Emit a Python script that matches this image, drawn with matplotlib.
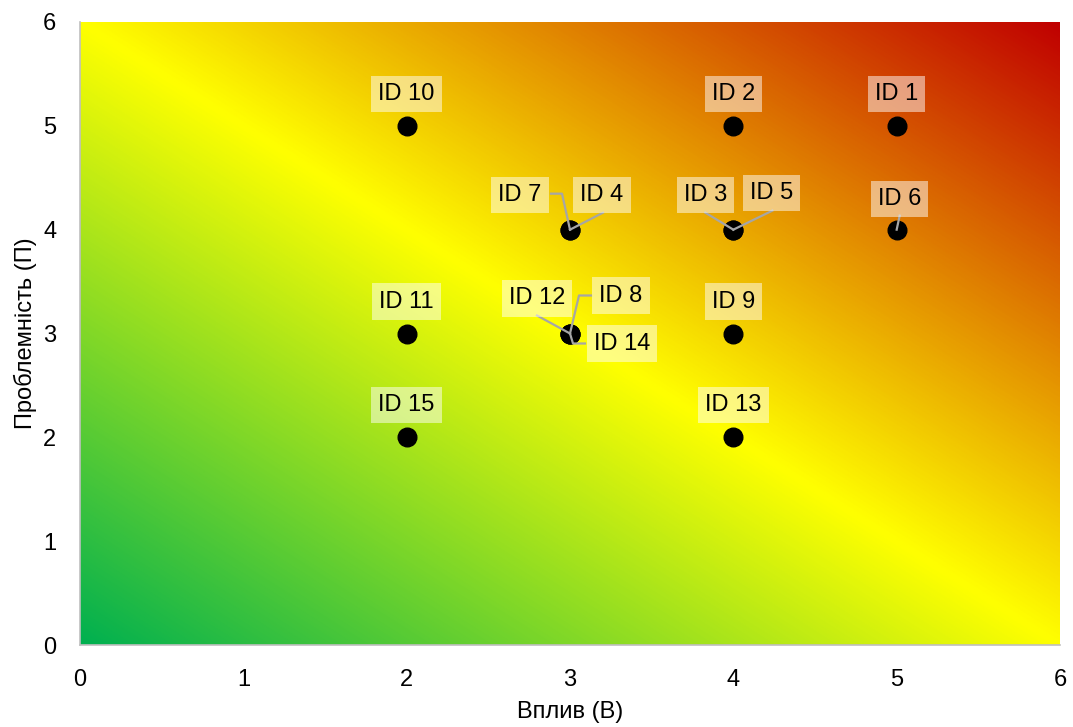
import numpy as np
import matplotlib.pyplot as plt
from matplotlib.colors import LinearSegmentedColormap

plt.rcParams['font.family'] = ['Liberation Sans', 'DejaVu Sans']

# risk register: impact (В) vs problem level (П)
ids = ['ID 1', 'ID 2', 'ID 3', 'ID 4', 'ID 5', 'ID 6', 'ID 7', 'ID 8',
       'ID 9', 'ID 10', 'ID 11', 'ID 12', 'ID 13', 'ID 14', 'ID 15']
impact = [5, 4, 4, 3, 4, 5, 3, 3, 4, 2, 2, 3, 4, 3, 2]
problem = [5, 5, 4, 4, 4, 4, 4, 3, 3, 5, 3, 3, 2, 3, 2]

x_ticks = [0, 1, 2, 3, 4, 5, 6]
y_ticks = [0, 1, 2, 3, 4, 5, 6]

# label offsets in pixels from the point (default: straight above)
label_offset = {
    'ID 7': (-50, 35), 'ID 4': (32, 35),
    'ID 3': (-28, 35), 'ID 5': (38, 37),
    'ID 6': (3, 31),
    'ID 12': (-33, 35), 'ID 8': (51, 38), 'ID 14': (52, -10),
}
# leader lines, pixel offsets from the point
leaders = {
    'ID 7': [(-19, 36), (-8, 36), (0, 0)],
    'ID 4': [(33, 17), (0, 0)],
    'ID 3': [(-28, 17), (0, 0)],
    'ID 5': [(39, 19), (0, 0)],
    'ID 6': [(3, 14), (0, 0)],
    'ID 12': [(-33, 18), (0, 0)],
    'ID 8': [(21, 38), (9, 38), (0, 0)],
    'ID 14': [(15, -10), (3, -10), (0, 0)],
}

fig = plt.figure(figsize=(10.73, 7.27), dpi=100)
ax = fig.add_axes([80 / 1073, 1 - 645 / 727, 980 / 1073, 623 / 727])

# diagonal green -> yellow -> red background
cmap = LinearSegmentedColormap.from_list('risk', ['#00B050', '#FFFF00', '#C00000'])
gx, gy = np.meshgrid(np.linspace(0, 6, 600), np.linspace(0, 6, 600))
ax.imshow((gx + gy) / 12, extent=[0, 6, 0, 6], origin='lower', cmap=cmap,
          aspect='auto', interpolation='bilinear', vmin=0, vmax=1, zorder=0)

ax.scatter(impact, problem, s=180, color='black', zorder=3)

# pixel -> data scale of the axes
sx = 6 / 980
sy = 6 / 623

for name, xv, yv in zip(ids, impact, problem):
    if name in leaders:
        pts = leaders[name]
        xs = [xv + p[0] * sx for p in pts]
        ys = [yv + p[1] * sy for p in pts]
        ax.plot(xs, ys, color='#A6A6A6', lw=1.6, zorder=4)
    dx, dy = label_offset.get(name, (0, 32))
    ax.annotate(name, xy=(xv, yv), xytext=(dx, dy), textcoords='offset pixels',
                ha='center', va='center', fontsize=17, color='black', zorder=5,
                bbox=dict(boxstyle='square,pad=0.3', fc='white', ec='none', alpha=0.5))

ax.set_xlim(0, 6)
ax.set_ylim(0, 6)
ax.set_xticks(x_ticks)
ax.set_yticks(y_ticks)
ax.tick_params(length=0, labelsize=17)
ax.tick_params(axis='y', pad=17)
ax.tick_params(axis='x', pad=17)
for side in ['top', 'right']:
    ax.spines[side].set_visible(False)
for side in ['left', 'bottom']:
    ax.spines[side].set_color('#BFBFBF')
    ax.spines[side].set_linewidth(1.2)

ax.set_xlabel('Вплив (В)', fontsize=17, va='center')
ax.set_ylabel('Проблемність (П)', fontsize=17, va='center')
ax.xaxis.set_label_coords(0.5, -67 / 623)
ax.yaxis.set_label_coords(-55 / 980, 0.5)

fig.savefig('out.png', dpi=100)
